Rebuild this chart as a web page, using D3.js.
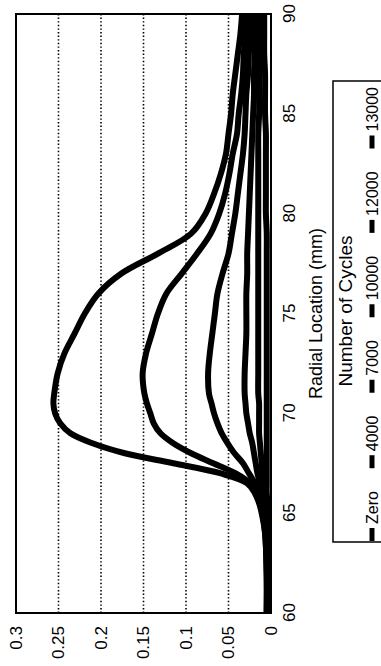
<!DOCTYPE html>
<html>
<head>
<meta charset="utf-8">
<script src="https://cdn.jsdelivr.net/npm/d3@7"></script>
<style>
  body { margin: 0; background: #fff; }
  svg { display: block; font-family: "Liberation Sans", Arial, sans-serif; }
</style>
</head>
<body>
<svg id="chart" width="381" height="666"></svg>
<script>
// data (radial location in mm, value)
const radial = [60, 62, 64, 65, 65.5, 66, 66.5, 67, 67.5, 68, 68.5, 69, 69.5, 70, 70.5, 71, 72, 73, 74, 75, 76, 77, 78, 79, 80, 81, 82, 83, 84, 85, 86, 87, 88, 89, 90];
const zero   = [0.004, 0.004, 0.004, 0.004, 0.004, 0.005, 0.005, 0.005, 0.005, 0.005, 0.005, 0.005, 0.005, 0.005, 0.005, 0.005, 0.005, 0.005, 0.005, 0.005, 0.005, 0.005, 0.005, 0.005, 0.006, 0.006, 0.006, 0.006, 0.006, 0.007, 0.007, 0.007, 0.008, 0.008, 0.008];
const c4000  = [0.004, 0.004, 0.005, 0.006, 0.007, 0.008, 0.009, 0.010, 0.011, 0.012, 0.013, 0.014, 0.014, 0.014, 0.014, 0.015, 0.015, 0.015, 0.015, 0.015, 0.015, 0.015, 0.015, 0.015, 0.015, 0.015, 0.015, 0.015, 0.015, 0.014, 0.014, 0.014, 0.014, 0.014, 0.013];
const c7000  = [0.004, 0.004, 0.005, 0.007, 0.009, 0.011, 0.013, 0.016, 0.018, 0.020, 0.022, 0.025, 0.027, 0.029, 0.030, 0.031, 0.031, 0.030, 0.029, 0.029, 0.029, 0.028, 0.028, 0.027, 0.026, 0.025, 0.024, 0.023, 0.022, 0.021, 0.020, 0.020, 0.019, 0.019, 0.018];
const c10000 = [0.005, 0.005, 0.006, 0.009, 0.011, 0.014, 0.019, 0.026, 0.033, 0.043, 0.051, 0.058, 0.063, 0.067, 0.070, 0.073, 0.074, 0.072, 0.069, 0.066, 0.063, 0.057, 0.050, 0.046, 0.042, 0.039, 0.036, 0.033, 0.031, 0.030, 0.029, 0.027, 0.026, 0.025, 0.024];
const c12000 = [0.005, 0.005, 0.007, 0.010, 0.013, 0.018, 0.025, 0.042, 0.068, 0.094, 0.115, 0.130, 0.138, 0.142, 0.146, 0.149, 0.151, 0.147, 0.140, 0.133, 0.123, 0.105, 0.087, 0.071, 0.061, 0.054, 0.049, 0.045, 0.040, 0.038, 0.035, 0.033, 0.032, 0.030, 0.029];
const c13000 = [0.005, 0.005, 0.007, 0.011, 0.014, 0.019, 0.028, 0.060, 0.115, 0.172, 0.210, 0.236, 0.248, 0.254, 0.256, 0.255, 0.251, 0.243, 0.231, 0.219, 0.203, 0.176, 0.133, 0.094, 0.077, 0.067, 0.059, 0.053, 0.050, 0.047, 0.045, 0.042, 0.039, 0.036, 0.034];

const seriesNames = ["Zero", "4000", "7000", "10000", "12000", "13000"];
const seriesValues = [zero, c4000, c7000, c10000, c12000, c13000];
const xTicks = [60, 65, 70, 75, 80, 85, 90];
const yTicks = [0, 0.05, 0.1, 0.15, 0.2, 0.25, 0.3];

const svg = d3.select("#chart");

// the figure is printed turned on its side: draw it upright, then rotate
const g = svg.append("g").attr("transform", "translate(0,666) rotate(-90)");

const pLeft = 53, pRight = 652, pTop = 16, pBottom = 271;

const x = d3.scaleLinear().domain([60, 90]).range([pLeft, pRight]);
const y = d3.scaleLinear().domain([0, 0.3]).range([pBottom, pTop]);

// dotted gridlines
g.append("g")
  .selectAll("line")
  .data(yTicks.filter(d => d > 0 && d < 0.3))
  .join("line")
    .attr("x1", pLeft).attr("x2", pRight)
    .attr("y1", d => y(d)).attr("y2", d => y(d))
    .attr("stroke", "#000")
    .attr("stroke-width", 1.6)
    .attr("stroke-dasharray", "1.4,2.2");

// curves
const line = d3.line()
  .x((d, i) => x(radial[i]))
  .y(d => y(d))
  .curve(d3.curveCatmullRom.alpha(0.5));

g.append("g")
  .selectAll("path")
  .data(seriesValues)
  .join("path")
    .attr("d", line)
    .attr("fill", "none")
    .attr("stroke", "#000")
    .attr("stroke-width", 6)
    .attr("stroke-linejoin", "round");

// frame
g.append("rect")
  .attr("x", pLeft).attr("y", pTop)
  .attr("width", pRight - pLeft).attr("height", pBottom - pTop)
  .attr("fill", "none")
  .attr("stroke", "#000")
  .attr("stroke-width", 2);

// axes
const xAxis = g.append("g")
  .attr("transform", `translate(0,${pBottom})`)
  .call(d3.axisBottom(x).tickValues(xTicks).tickSize(0).tickPadding(12));

const yAxis = g.append("g")
  .attr("transform", `translate(${pLeft},0)`)
  .call(d3.axisLeft(y).tickValues(yTicks).tickSize(0).tickPadding(13).tickFormat(d3.format("")));

[xAxis, yAxis].forEach(a => {
  a.select(".domain").remove();
  a.selectAll("text")
    .attr("fill", "#000")
    .style("font-size", "17px")
    .style("font-family", "Liberation Sans, Arial, sans-serif");
});

g.append("text")
  .attr("x", (pLeft + pRight) / 2)
  .attr("y", 322)
  .attr("text-anchor", "middle")
  .style("font-size", "18px")
  .text("Radial Location (mm)");

// legend
const legStart = 125, legEnd = 579;
g.append("rect")
  .attr("x", legStart - 1).attr("y", 333)
  .attr("width", legEnd - legStart + 7).attr("height", 70)
  .attr("fill", "none")
  .attr("stroke", "#000")
  .attr("stroke-width", 1.5);

g.append("text")
  .attr("x", (legStart + legEnd) / 2 + 3)
  .attr("y", 352)
  .attr("text-anchor", "middle")
  .style("font-size", "19px")
  .text("Number of Cycles");

const markLen = 13, markGap = 4;
const items = g.append("g")
  .selectAll("g")
  .data(seriesNames)
  .join("g");

items.append("line")
  .attr("stroke", "#000")
  .attr("stroke-width", 5)
  .attr("y1", 372).attr("y2", 372);

items.append("text")
  .attr("y", 378)
  .style("font-size", "16px")
  .text(d => d);

const widths = items.select("text").nodes().map(n => markLen + markGap + n.getComputedTextLength());
const gap = (legEnd - legStart - d3.sum(widths)) / (widths.length - 1);
let pos = legStart;
items.each(function (d, i) {
  const it = d3.select(this);
  it.select("line").attr("x1", pos).attr("x2", pos + markLen);
  it.select("text").attr("x", pos + markLen + markGap);
  pos += widths[i] + gap;
});
</script>
</body>
</html>
